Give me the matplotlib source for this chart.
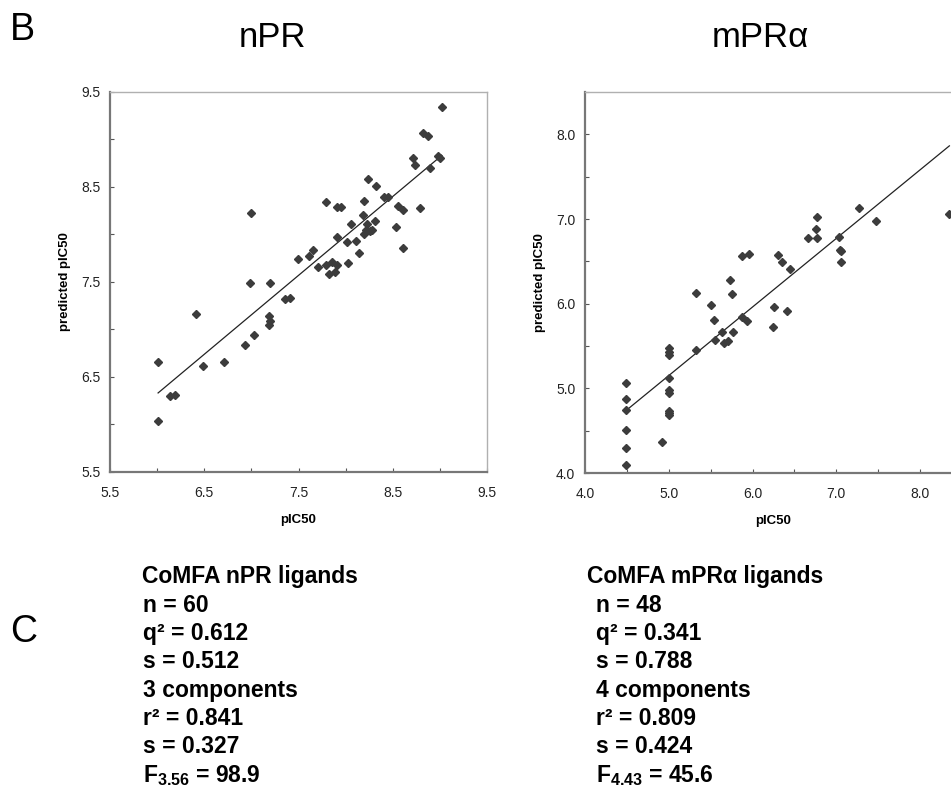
import numpy as np
import matplotlib
matplotlib.use('Agg')
from matplotlib import pyplot as plt

plt.rcParams['font.family'] = ['Liberation Sans', 'DejaVu Sans']
plt.rcParams['mathtext.fontset'] = 'custom'
plt.rcParams['mathtext.rm'] = 'Liberation Sans'
plt.rcParams['mathtext.bf'] = 'Liberation Sans:bold'

# nPR: experimental vs predicted pIC50
npr_x = [6.01, 6.01, 6.14, 6.19, 6.41, 6.49, 6.71, 6.93, 6.98, 7.00,
         7.03, 7.20, 7.19, 7.20, 7.19, 7.36, 7.41, 7.49, 7.61, 7.65,
         7.71, 7.79, 7.79, 7.82, 7.86, 7.89, 7.91, 7.91, 7.91, 7.95,
         8.01, 8.03, 8.06, 8.11, 8.14, 8.18, 8.19, 8.19, 8.22, 8.23,
         8.24, 8.26, 8.28, 8.31, 8.32, 8.41, 8.53, 8.56, 8.61, 8.61,
         8.79, 8.71, 8.74, 8.82, 8.87, 8.90, 8.98, 9.00, 9.02, 8.45]
npr_y = [6.66, 6.04, 6.30, 6.31, 7.16, 6.62, 6.66, 6.84, 7.49, 8.23,
         6.94, 7.49, 7.14, 7.09, 7.05, 7.32, 7.33, 7.74, 7.77, 7.84,
         7.66, 7.68, 8.34, 7.58, 7.71, 7.61, 7.68, 7.97, 8.29, 8.29,
         7.92, 7.70, 8.11, 7.93, 7.81, 8.20, 8.35, 8.01, 8.05, 8.11,
         8.58, 8.04, 8.05, 8.14, 8.51, 8.39, 8.08, 8.30, 8.26, 7.86,
         8.28, 8.80, 8.73, 9.07, 9.04, 8.70, 8.83, 8.80, 9.34, 8.39]

# mPRalpha: experimental vs predicted pIC50
mpr_x = [4.49, 4.49, 4.49, 4.49, 4.49, 4.49, 4.92, 5.00, 5.00, 5.00,
         5.00, 5.00, 5.00, 5.00, 5.00, 5.00, 5.32, 5.32, 5.50, 5.54,
         5.55, 5.63, 5.66, 5.71, 5.73, 5.76, 5.77, 5.88, 5.88, 5.93,
         5.96, 6.25, 6.26, 6.30, 6.35, 6.41, 6.45, 6.66, 6.76, 6.77,
         6.77, 7.03, 7.04, 7.06, 7.06, 7.27, 7.47, 8.35]
mpr_y = [4.10, 4.29, 4.51, 4.75, 4.87, 5.06, 4.37, 4.69, 4.71, 4.73,
         4.95, 4.98, 5.12, 5.39, 5.43, 5.48, 5.45, 6.13, 5.99, 5.81,
         5.57, 5.66, 5.54, 5.56, 6.28, 6.12, 5.66, 6.56, 5.84, 5.79,
         6.59, 5.73, 5.96, 6.58, 6.49, 5.91, 6.41, 6.78, 6.88, 7.02,
         6.77, 6.79, 6.63, 6.62, 6.49, 7.13, 6.98, 7.06]

npr_stats = ['n = 60', 'q\u00b2 = 0.612', 's = 0.512', '3 components',
             'r\u00b2 = 0.841', 's = 0.327', r'$\mathbf{F}_{\mathbf{3.56}}$ = 98.9']
mpr_stats = ['n = 48', 'q\u00b2 = 0.341', 's = 0.788', '4 components',
             'r\u00b2 = 0.809', 's = 0.424', r'$\mathbf{F}_{\mathbf{4.43}}$ = 45.6']

fig = plt.figure(figsize=(9.51, 7.89), dpi=100)


def scatter_panel(rect, xs, ys, lim_x, lim_y, labels):
    ax = fig.add_axes(rect)
    ax.plot(xs, ys, 'D', ms=3.8, color='#3c3c3c', mec='#3c3c3c', zorder=3)
    k, b = np.polyfit(xs, ys, 1)
    lx = np.array([min(xs), max(xs)])
    ax.plot(lx, k * lx + b, color='#222222', lw=0.9, zorder=2)
    ax.set_xlim(*lim_x)
    ax.set_ylim(*lim_y)
    ax.set_xticks(np.arange(lim_x[0], lim_x[1] + 0.01, 0.5))
    ax.set_yticks(np.arange(lim_y[0], lim_y[1] + 0.01, 0.5))
    ax.set_xticklabels([labels(v) for v in ax.get_xticks()])
    ax.set_yticklabels([labels(v) for v in ax.get_yticks()])
    ax.tick_params(direction='in', length=3, width=0.8, color='#555555',
                   labelsize=10, labelcolor='#222222')
    ax.tick_params(axis='x', pad=10)
    ax.tick_params(axis='y', pad=7)
    for s in ['left', 'bottom']:
        ax.spines[s].set_color('#777777')
        ax.spines[s].set_linewidth(1.6)
    for s in ['top', 'right']:
        ax.spines[s].set_color('#b0b0b0')
        ax.spines[s].set_linewidth(1.0)
    ax.set_xlabel('pIC50', fontsize=9.5, fontweight='bold', labelpad=10)
    ax.set_ylabel('predicted pIC50', fontsize=9.5, fontweight='bold', labelpad=7)
    return ax


def every_other(start):
    return lambda v: ('%.1f' % v) if abs((v - start) - round(v - start)) < 1e-6 else ''


scatter_panel([0.1157, 0.4018, 0.3964, 0.4816], npr_x, npr_y,
              (5.5, 9.5), (5.5, 9.5), every_other(5.5))
scatter_panel([0.6151, 0.4005, 0.3964, 0.4829], mpr_x, mpr_y,
              (4.0, 8.5), (4.0, 8.5), every_other(4.0))

fig.text(0.0105, 0.962, 'B', fontsize=27, va='center', ha='left')
fig.text(0.286, 0.952, 'nPR', fontsize=25, va='center', ha='center')
fig.text(0.800, 0.952, 'mPR\u03b1', fontsize=25, va='center', ha='center')
fig.text(0.0105, 0.199, 'C', fontsize=27, va='center', ha='left')

line_h = 28.3 / 789
top = 1 - 577 / 789
fs = 16.5
fig.text(142 / 951, top, 'CoMFA nPR ligands', fontsize=fs, fontweight='bold', va='center')
fig.text(587 / 951, top, 'CoMFA mPR\u03b1 ligands', fontsize=fs, fontweight='bold', va='center')
for i, (a, b) in enumerate(zip(npr_stats, mpr_stats)):
    y = top - (i + 1) * line_h
    fig.text(143 / 951, y, a, fontsize=fs, fontweight='bold', va='center')
    fig.text(596 / 951, y, b, fontsize=fs, fontweight='bold', va='center')

fig.savefig('out.png', dpi=100)
